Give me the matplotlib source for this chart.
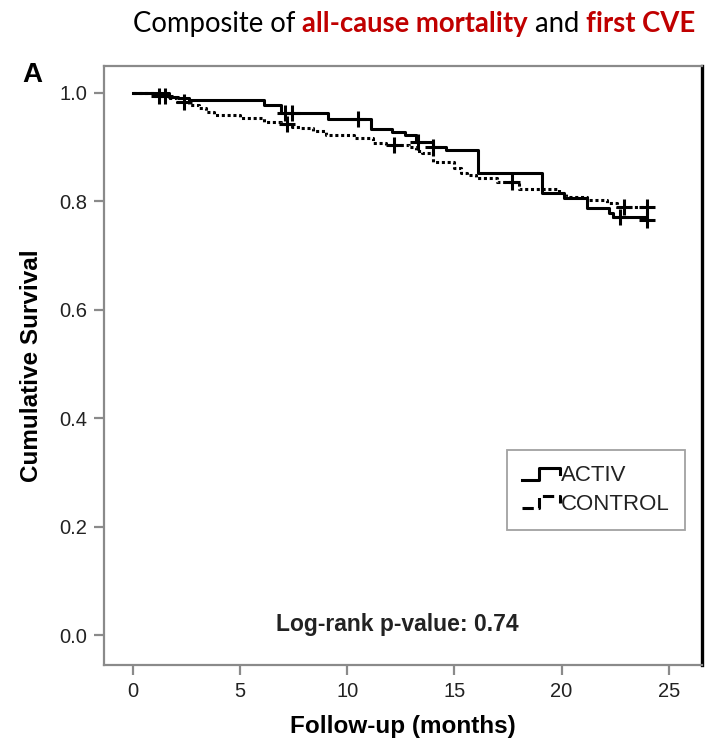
import numpy as np
import matplotlib
matplotlib.use("Agg")
import matplotlib.pyplot as plt
from matplotlib.lines import Line2D
from matplotlib.legend_handler import HandlerBase

plt.rcParams["font.family"] = ["Liberation Sans", "DejaVu Sans"]

# ---------------------------------------------------
# data
# ---------------------------------------------------
activ_t = [0, 1.7, 2.1, 2.6, 6.1, 6.9, 9.1, 11.1, 12.1, 12.7, 13.2, 14.0, 14.6,
           16.1, 19.1, 20.1, 21.2, 22.2, 22.4, 24.0]
activ_s = [1.0, 0.993, 0.990, 0.987, 0.978, 0.963, 0.952, 0.934, 0.928, 0.922,
           0.910, 0.900, 0.895, 0.852, 0.815, 0.806, 0.788, 0.778, 0.771, 0.766]
activ_cens = [7.1, 7.4, 10.5, 13.3, 14.0, 22.7, 24.0]

control_t = [0, 1.0, 1.6, 2.05, 2.6, 3.1, 3.4, 3.8, 5.0, 6.1, 6.9, 7.4, 7.8, 8.4,
             9.0, 10.3, 11.2, 11.8, 12.9, 13.2, 13.5, 14.0, 15.0, 15.3, 15.6, 16.0,
             17.0, 18.0, 19.9, 20.2, 21.2, 22.1, 22.6]
control_s = [1.0, 0.994, 0.990, 0.983, 0.978, 0.972, 0.965, 0.960, 0.954, 0.946,
             0.943, 0.938, 0.935, 0.929, 0.922, 0.917, 0.908, 0.904, 0.900, 0.893,
             0.890, 0.873, 0.862, 0.852, 0.848, 0.843, 0.836, 0.823, 0.815, 0.808,
             0.803, 0.797, 0.790]
control_cens = [1.2, 1.5, 2.4, 7.2, 12.2, 17.7, 22.9, 24.0]

x_ticks = [0, 5, 10, 15, 20, 25]
y_ticks = [0.0, 0.2, 0.4, 0.6, 0.8, 1.0]

GREY = "#8a8a8a"
RED = "#c00000"


def surv_at(times, surv, t):
    idx = np.searchsorted(times, t, side="right") - 1
    return surv[idx]


class StepHandler(HandlerBase):
    # disegna il simbolo a gradino della legenda
    def create_artists(self, legend, orig_handle, xdescent, ydescent,
                       width, height, fontsize, trans):
        xs = np.array([0.0, 0.45, 0.45, 1.0, 1.0]) * width - xdescent
        ys = np.array([0.1, 0.1, 0.85, 0.85, 0.45]) * height - ydescent
        ln = Line2D(xs, ys, color=orig_handle.get_color(),
                    lw=orig_handle.get_linewidth(),
                    ls=orig_handle.get_linestyle())
        ln.set_transform(trans)
        return [ln]


fig = plt.figure(figsize=(7.12, 7.48), dpi=100)
ax = fig.add_axes([0.146, 0.111, 0.840, 0.801])

end_t = 24.0
at = list(activ_t) + [end_t]
as_ = list(activ_s) + [activ_s[-1]]
ct = list(control_t) + [end_t]
cs = list(control_s) + [control_s[-1]]

l_act, = ax.step(at, as_, where="post", color="black", lw=2.2, label="ACTIV")
l_ctl, = ax.step(ct, cs, where="post", color="black", lw=2.2,
                 ls=(0, (1.0, 0.9)), label="CONTROL")

ax.plot(activ_cens, [surv_at(activ_t, activ_s, c) for c in activ_cens],
        ls="none", marker="+", ms=12, mew=2.2, color="black")
ax.plot(control_cens, [surv_at(control_t, control_s, c) for c in control_cens],
        ls="none", marker="+", ms=12, mew=2.2, color="black")

ax.set_xlim(-1.35, 26.55)
ax.set_ylim(-0.055, 1.05)
ax.set_xticks(x_ticks)
ax.set_yticks(y_ticks)
ax.set_yticklabels([f"{v:.1f}" for v in y_ticks])
ax.tick_params(direction="out", length=7, width=1.6, color=GREY,
               labelsize=14.5, labelcolor="#222222", pad=5)

for side in ["left", "bottom", "top"]:
    ax.spines[side].set_color(GREY)
    ax.spines[side].set_linewidth(1.6)
ax.spines["right"].set_color("black")
ax.spines["right"].set_linewidth(2.4)

ax.set_xlabel("Follow-up (months)", fontsize=17.5, fontweight="bold", labelpad=10)
ax.set_ylabel("Cumulative Survival", fontsize=17.5, fontweight="bold", labelpad=12)

ax.text(0.49, 0.068, "Log-rank p-value: 0.74", transform=ax.transAxes,
        ha="center", va="center", fontsize=16.5, fontweight="bold", color="#222222")

leg = ax.legend(handles=[l_act, l_ctl], loc="upper right",
                bbox_to_anchor=(0.972, 0.359), fontsize=16, frameon=True,
                fancybox=False, edgecolor=GREY, handlelength=1.7,
                handletextpad=0.05, borderpad=0.7, labelspacing=0.32,
                borderaxespad=0, handler_map={Line2D: StepHandler()})
leg.get_frame().set_linewidth(1.3)
for t in leg.get_texts():
    t.set_color("#222222")

fig.text(0.045, 0.9, "A", fontsize=20, fontweight="bold", ha="center", va="center")

# titolo multicolore
pieces = [("Composite of ", "black", "normal"),
          ("all-cause mortality", RED, "bold"),
          (" and ", "black", "normal"),
          ("first CVE", RED, "bold")]
renderer = fig.canvas.get_renderer()
x = 133 / 712
for txt, col, w in pieces:
    t = fig.text(x, 1 - 24 / 748, txt, color=col, fontweight=w, fontsize=19.8,
                 family="Lato", ha="left", va="center")
    bb = t.get_window_extent(renderer=renderer)
    x += bb.width / fig.bbox.width

fig.savefig("out.png", dpi=100)
